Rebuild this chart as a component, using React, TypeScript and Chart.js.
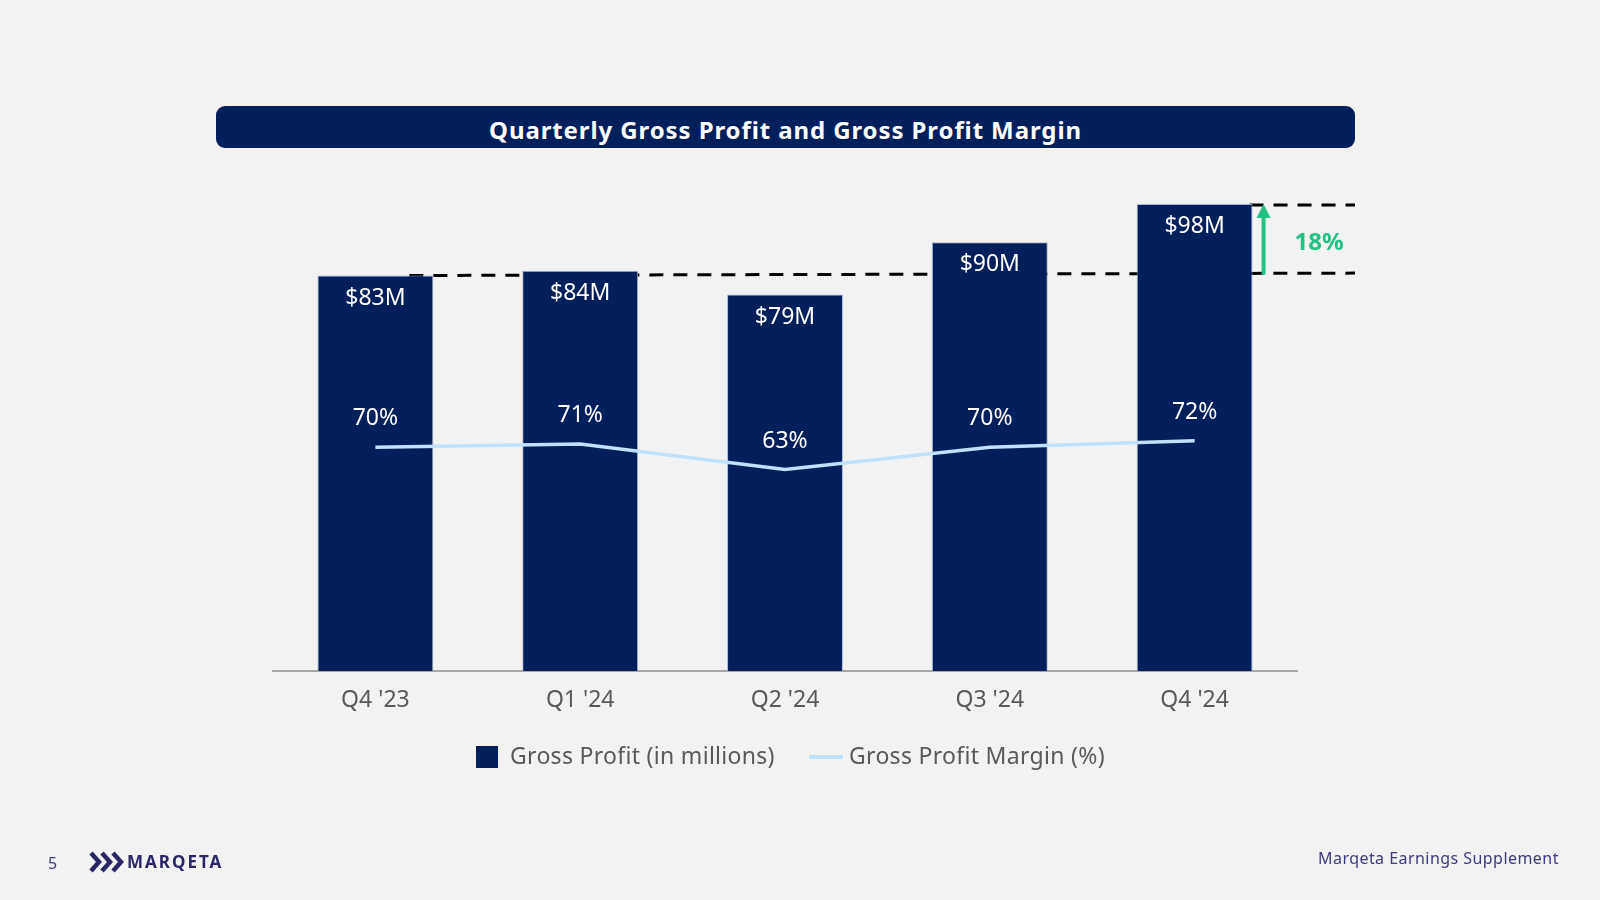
import React, { useEffect, useRef } from "react";
import { Chart, registerables } from "chart.js";

Chart.register(...registerables);

const categories = ["Q4 '23", "Q1 '24", "Q2 '24", "Q3 '24", "Q4 '24"];
const grossProfit = [83, 84, 79, 90, 98];
const grossMargin = [70, 71, 63, 70, 72];
const profitLabels = ["$83M", "$84M", "$79M", "$90M", "$98M"];
const marginLabels = ["70%", "71%", "63%", "70%", "72%"];
const seriesNames = ["Gross Profit (in millions)", "Gross Profit Margin (%)"];
const growthLabel = "18%";
const baseValue = 83;
const topValue = 98;

const FONT = '"Noto Sans", "Open Sans", sans-serif';
const NAVY = "#001f5b";
const LIGHT = "#bfe1fb";
const GREEN = "#23c283";

export default function App() {
  const ref = useRef<HTMLCanvasElement | null>(null);

  useEffect(() => {
    const canvas = ref.current;
    if (!canvas) return;

    const overlay = {
      id: "overlay",
      beforeDatasetsDraw(chart: any) {
        const { ctx } = chart;
        const y = chart.scales.y;
        const xs = chart.scales.x;
        const bars = chart.getDatasetMeta(1).data;
        ctx.save();
        ctx.strokeStyle = "#000";
        ctx.lineWidth = 3;
        ctx.setLineDash([14, 10]);
        const yb = y.getPixelForValue(baseValue);
        const yb2 = y.getPixelForValue(baseValue + 0.5);
        const x0 = bars[0].x + bars[0].width / 2 - 24;
        const xEnd = xs.right + 58;
        ctx.beginPath();
        ctx.moveTo(x0, yb);
        ctx.lineTo(xEnd, yb2);
        ctx.stroke();
        const last = bars[bars.length - 1];
        const yt = y.getPixelForValue(topValue) + 1;
        ctx.beginPath();
        ctx.moveTo(last.x + last.width / 2 - 3, yt);
        ctx.lineTo(xEnd, yt);
        ctx.stroke();
        ctx.restore();
      },
      afterDatasetsDraw(chart: any) {
        const { ctx } = chart;
        const y = chart.scales.y;
        const xs = chart.scales.x;
        const bars = chart.getDatasetMeta(1).data;
        const pts = chart.getDatasetMeta(0).data;
        ctx.save();
        ctx.fillStyle = "#ffffff";
        ctx.textAlign = "center";
        ctx.textBaseline = "middle";
        ctx.font = `23px ${FONT}`;
        bars.forEach((b: any, i: number) => {
          ctx.fillText(profitLabels[i], b.x, b.y + 22.5);
        });
        pts.forEach((p: any, i: number) => {
          ctx.fillText(marginLabels[i], p.x, p.y - 28.5);
        });

        // growth arrow
        const last = bars[bars.length - 1];
        const ax = last.x + last.width / 2 + 11;
        const yTop = y.getPixelForValue(topValue) + 1;
        const yBot = y.getPixelForValue(baseValue + 0.2);
        ctx.strokeStyle = GREEN;
        ctx.fillStyle = GREEN;
        ctx.lineWidth = 4;
        ctx.beginPath();
        ctx.moveTo(ax, yBot);
        ctx.lineTo(ax, yTop + 10);
        ctx.stroke();
        ctx.beginPath();
        ctx.moveTo(ax, yTop - 1);
        ctx.lineTo(ax - 7, yTop + 13);
        ctx.lineTo(ax + 7, yTop + 13);
        ctx.closePath();
        ctx.fill();
        ctx.font = `bold 24px ${FONT}`;
        ctx.fillText(growthLabel, xs.right + 22, (yTop + yBot) / 2 + 3);

        // legend
        const ly = 757;
        ctx.fillStyle = NAVY;
        ctx.fillRect(476, ly - 11, 22, 22);
        ctx.strokeStyle = LIGHT;
        ctx.lineWidth = 4;
        ctx.beginPath();
        ctx.moveTo(809, ly);
        ctx.lineTo(843, ly);
        ctx.stroke();
        ctx.fillStyle = "#595959";
        ctx.textAlign = "left";
        ctx.font = `23px ${FONT}`;
        (ctx as any).letterSpacing = "0.3px";
        ctx.fillText(seriesNames[0], 510, ly);
        ctx.fillText(seriesNames[1], 849, ly);
        ctx.restore();
      },
    };

    const chart = new Chart(canvas, {
      type: "bar",
      data: {
        labels: categories,
        datasets: [
          {
            type: "line",
            label: seriesNames[1],
            data: grossMargin,
            yAxisID: "y2",
            borderColor: LIGHT,
            backgroundColor: LIGHT,
            borderWidth: 3.5,
            pointRadius: 0,
            tension: 0,
            order: 0,
          } as any,
          {
            type: "bar",
            label: seriesNames[0],
            data: grossProfit,
            yAxisID: "y",
            backgroundColor: NAVY,
            borderColor: "rgba(160,175,205,0.9)",
            borderWidth: 1,
            barPercentage: 0.566,
            categoryPercentage: 1,
            order: 1,
          },
        ],
      },
      options: {
        animation: false,
        responsive: false,
        maintainAspectRatio: false,
        events: [],
        layout: { padding: { left: 273, right: 303, top: 194.5, bottom: 0 } },
        plugins: {
          legend: { display: false },
          tooltip: { enabled: false },
          title: { display: false },
        },
        scales: {
          x: {
            grid: { display: false, drawTicks: false },
            border: { display: true, color: "#a6a6a6", width: 2 },
            ticks: { color: "#595959", font: { family: FONT, size: 23 }, padding: 16 },
            afterFit: (s: any) => {
              s.height = 229;
            },
          },
          y: { display: false, min: 0, max: 100 },
          y2: { display: false, min: 0, max: 149, position: "right" },
        },
      },
      plugins: [overlay],
    });
    return () => chart.destroy();
  }, []);

  return (
    <div
      style={{
        position: "fixed",
        left: 0,
        top: 0,
        width: 1600,
        height: 900,
        background: "#f2f2f2",
        overflow: "hidden",
        fontFamily: FONT,
      }}
    >
      <div
        style={{
          position: "absolute",
          left: 216,
          top: 106,
          width: 1139,
          height: 42,
          borderRadius: 9,
          background: NAVY,
          color: "#fff",
          fontWeight: 700,
          fontSize: 24,
          letterSpacing: 0.9,
          paddingTop: 4,
          boxSizing: "border-box",
          display: "flex",
          alignItems: "center",
          justifyContent: "center",
        }}
      >
        Quarterly Gross Profit and Gross Profit Margin
      </div>
      <canvas ref={ref} width={1600} height={900} style={{ position: "absolute", left: 0, top: 0 }} />
      <div style={{ position: "absolute", left: 48, top: 852, fontSize: 16, color: "#3d3b7c" }}>5</div>
      <svg
        style={{ position: "absolute", left: 89, top: 851 }}
        width={40}
        height={22}
        viewBox="0 0 40 22"
      >
        {[0, 11, 22].map((dx) => (
          <polyline
            key={dx}
            points={`${2 + dx},2 ${10 + dx},11 ${2 + dx},20`}
            fill="none"
            stroke="#2a2766"
            strokeWidth={4.5}
            strokeLinejoin="miter"
          />
        ))}
      </svg>
      <div
        style={{
          position: "absolute",
          left: 127,
          top: 850,
          fontSize: 17,
          fontWeight: 700,
          letterSpacing: 2,
          color: "#2a2766",
        }}
      >
        MARQETA
      </div>
      <div
        style={{
          position: "absolute",
          left: 1318,
          top: 847,
          fontSize: 16,
          letterSpacing: 0.45,
          color: "#3c3a80",
        }}
      >
        Marqeta Earnings Supplement
      </div>
    </div>
  );
}
